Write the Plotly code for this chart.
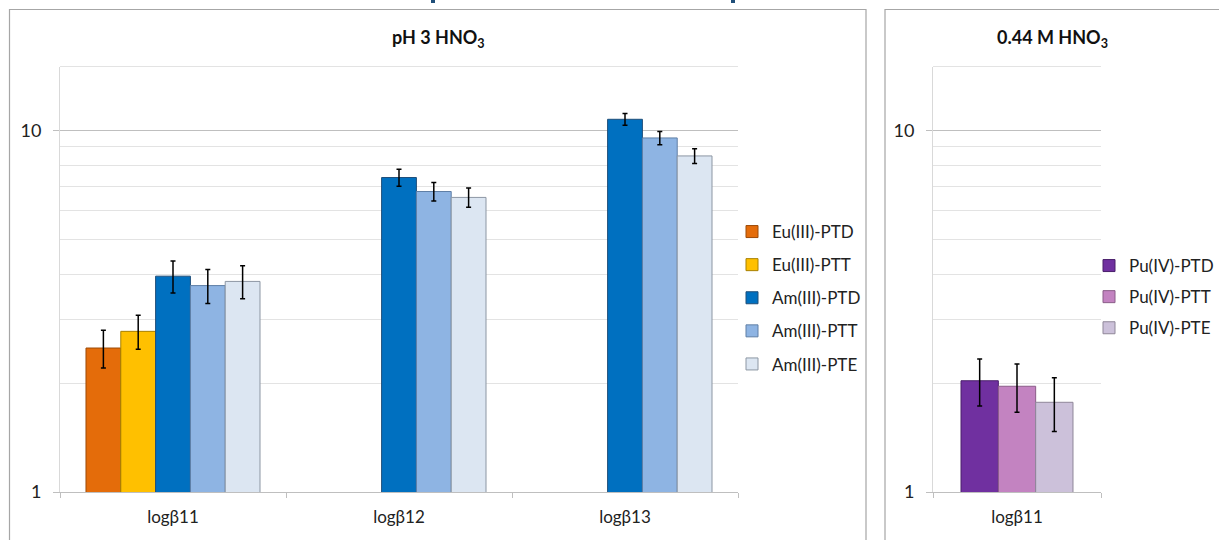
import plotly.graph_objects as go

W, H = 1219, 540

# ---- data ----
categories_ph3 = ["logβ11", "logβ12", "logβ13"]
categories_044 = ["logβ11"]

eu_ptd = [2.50, None, None]
eu_ptt = [2.78, None, None]
am_ptd = [3.95, 7.40, 10.72]
am_ptt = [3.72, 6.77, 9.52]
am_pte = [3.82, 6.52, 8.49]
eu_err = [0.3, 0.3, 0.3]
am_err = [0.4, 0.4, 0.4]

pu_ptd = [2.03]
pu_ptt = [1.96]
pu_pte = [1.77]
pu_err = [0.3]

y_ticks = [1, 10]
y_minor = [2, 3, 4, 5, 6, 7, 8, 9]

FONT = "Lato"

def px_x(v):
    return v / W

def px_y(v):
    return 1 - v / H

fig = go.Figure()

left_series = [
    ("Eu(III)-PTD", eu_ptd, eu_err, "#E46C0A", "#9C4A07"),
    ("Eu(III)-PTT", eu_ptt, eu_err, "#FFC000", "#A88000"),
    ("Am(III)-PTD", am_ptd, am_err, "#0070C0", "#1F4E79"),
    ("Am(III)-PTT", am_ptt, am_err, "#8EB4E3", "#5F7FA6"),
    ("Am(III)-PTE", am_pte, am_err, "#DCE6F2", "#8C96A3"),
]
for name, vals, err, col, lc in left_series:
    fig.add_trace(go.Bar(
        x=categories_ph3, y=vals, name=name, xaxis="x", yaxis="y",
        marker=dict(color=col, line=dict(color=lc, width=1)),
        error_y=dict(type="data", array=err, color="black", thickness=1.5, width=2.5),
        legend="legend", legendgroup=name,
    ))

right_series = [
    ("Pu(IV)-PTD", pu_ptd, "#7030A0", "#4A1F6B"),
    ("Pu(IV)-PTT", pu_ptt, "#C383C1", "#8A5C88"),
    ("Pu(IV)-PTE", pu_pte, "#CCC1DA", "#8F8799"),
]
bw = 0.2222
for i, (name, vals, col, lc) in enumerate(right_series):
    fig.add_trace(go.Bar(
        x=categories_044, y=vals, name=name, xaxis="x2", yaxis="y2",
        width=bw, offset=-1.5 * bw + i * bw,
        marker=dict(color=col, line=dict(color=lc, width=1)),
        error_y=dict(type="data", array=pu_err, color="black", thickness=1.5, width=2.5),
        legend="legend2", legendgroup=name,
    ))

ydom = [px_y(492), px_y(66.5)]

def yaxis_cfg(anchor):
    return dict(
        type="log", range=[0, 1.1761], domain=ydom, anchor=anchor,
        tickmode="array", tickvals=y_ticks, ticktext=["1", "10"],
        showgrid=True, gridcolor="#BFBFBF", gridwidth=1,
        minor=dict(tickmode="array", tickvals=y_minor, showgrid=True,
                   gridcolor="#E3E3E3", gridwidth=1, ticks=""),
        showline=True, linecolor="#D9D9D9", linewidth=1,
        ticks="outside", ticklen=6, tickcolor="#BFBFBF",
        tickfont=dict(family=FONT, size=18, color="#222"),
        ticklabelstandoff=8, zeroline=False, fixedrange=True,
        automargin=False,
    )

def xaxis_cfg(dom, anchor):
    return dict(
        type="category", domain=dom, anchor=anchor,
        showgrid=False, showline=True, linecolor="#BFBFBF", linewidth=1,
        ticks="outside", tickson="boundaries", ticklen=5, tickcolor="#BFBFBF",
        tickfont=dict(family=FONT, size=17, color="#222"),
        ticklabelstandoff=10, fixedrange=True, automargin=False,
    )

shapes = [
    # chart frames
    dict(type="rect", xref="paper", yref="paper", x0=px_x(9.5), x1=px_x(866),
         y0=-0.1, y1=px_y(9.5), line=dict(color="#A6A6A6", width=1.2)),
    dict(type="rect", xref="paper", yref="paper", x0=px_x(885), x1=1.05,
         y0=-0.1, y1=px_y(9.5), line=dict(color="#A6A6A6", width=1.2)),
    # plot-area top borders
    dict(type="line", xref="x domain", yref="y domain", x0=0, x1=1, y0=1, y1=1,
         line=dict(color="#E3E3E3", width=1)),
    dict(type="line", xref="x2 domain", yref="y2 domain", x0=0, x1=1, y0=1, y1=1,
         line=dict(color="#E3E3E3", width=1)),
    # fragments of cut-off slide heading
    dict(type="rect", xref="paper", yref="paper", x0=px_x(431), x1=px_x(435),
         y0=px_y(3), y1=1, line=dict(width=0), fillcolor="#1F4E79"),
    dict(type="rect", xref="paper", yref="paper", x0=px_x(731), x1=px_x(735),
         y0=px_y(3), y1=1, line=dict(width=0), fillcolor="#1F4E79"),
]

annotations = [
    dict(text="<b>pH 3 HNO<sub>3</sub></b>", xref="paper", yref="paper",
         x=px_x(438), y=px_y(38), showarrow=False, xanchor="center", yanchor="middle",
         font=dict(family=FONT, size=18, color="#111")),
    dict(text="<b>0.44 M HNO<sub>3</sub></b>", xref="paper", yref="paper",
         x=px_x(1052), y=px_y(38), showarrow=False, xanchor="center", yanchor="middle",
         font=dict(family=FONT, size=18, color="#111")),
]

fig.update_layout(
    width=W, height=H, autosize=False,
    margin=dict(l=0, r=0, t=0, b=0),
    paper_bgcolor="white", plot_bgcolor="white",
    barmode="group", bargap=0.23, bargroupgap=0,
    xaxis=xaxis_cfg([px_x(60), px_x(738)], "y"),
    yaxis=yaxis_cfg("x"),
    xaxis2=xaxis_cfg([px_x(933), px_x(1101)], "y2"),
    yaxis2=yaxis_cfg("x2"),
    legend=dict(x=px_x(732), y=px_y(214), xanchor="left", yanchor="top",
                font=dict(family=FONT, size=17, color="#222"),
                tracegroupgap=8, itemwidth=30, bgcolor="rgba(0,0,0,0)"),
    legend2=dict(x=1, y=px_y(248), xanchor="right", yanchor="top",
                 font=dict(family=FONT, size=17, color="#222"),
                 tracegroupgap=6, itemwidth=30, bgcolor="rgba(0,0,0,0)"),
    shapes=shapes, annotations=annotations,
    showlegend=True,
)

fig.write_html(
    "out.html",
    config={"displayModeBar": False},
    post_script="document.body.style.margin='0';document.body.style.padding='0';document.body.style.overflow='hidden';",
)
